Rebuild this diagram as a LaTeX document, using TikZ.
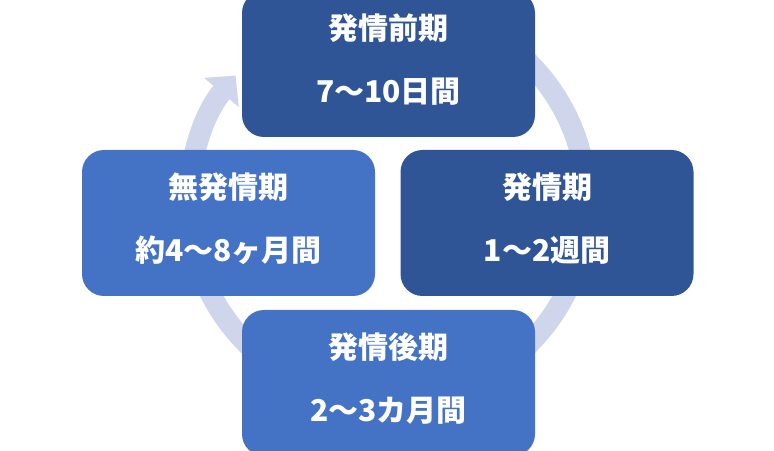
\documentclass[tikz,border=0pt]{standalone}
\usepackage{fontspec}
\newfontfamily\jpfont{Noto Sans CJK JP}
\usetikzlibrary{arrows.meta}
\definecolor{koiao}{HTML}{2F5597}
\definecolor{ao}{HTML}{4472C4}
\definecolor{wa}{HTML}{CFD5EA}
\begin{document}
\begin{tikzpicture}[x=1pt,y=1pt,line join=round,
	kiki/.style={rounded corners=22pt,minimum width=293pt,minimum height=146pt,inner sep=0pt,
		text=white,align=center,text depth=12pt,font=\jpfont\bfseries\fontsize{30}{63}\selectfont},
	wa/.style={draw=wa,line width=21pt,-{Triangle[width=44pt,length=22pt]}}]
	\useasboundingbox (0,0) rectangle (774,450);
	\coordinate (o) at (388,246.5);
	\draw[wa] (o) ++(95:199) arc[start angle=95,end angle=-220,radius=199];
	\node[kiki,fill=koiao] (zenki) at (388.5,386) {発情前期\\7～10日間};
	\node[kiki,fill=koiao] (hatsu) at (547,227) {発情期\\1～2週間};
	\node[kiki,fill=ao] (kouki) at (388.5,67) {発情後期\\2～3カ月間};
	\node[kiki,fill=ao] (muhatsu) at (228.5,227) {無発情期\\約4～8ヶ月間};
\end{tikzpicture}
\end{document}
